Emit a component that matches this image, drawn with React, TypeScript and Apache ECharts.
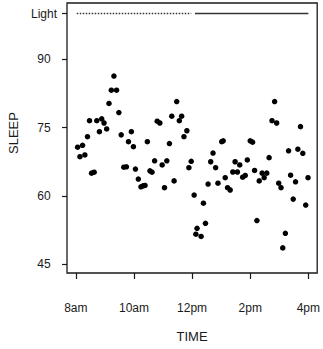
import React, { useEffect, useRef } from "react";
import * as echarts from "echarts";

const times = [8.06,8.14,8.23,8.31,8.40,8.47,8.54,8.63,8.72,8.81,8.89,8.97,9.06,9.14,9.22,9.31,9.40,9.48,9.56,9.65,9.74,9.81,9.91,9.98,10.05,10.15,10.24,10.31,10.38,10.46,10.55,10.62,10.71,10.80,10.89,10.97,11.05,11.13,11.22,11.30,11.38,11.47,11.56,11.64,11.72,11.82,11.89,11.97,12.07,12.13,12.17,12.31,12.39,12.46,12.55,12.64,12.72,12.81,12.89,13.02,13.07,13.14,13.22,13.31,13.40,13.48,13.56,13.64,13.74,13.83,13.90,14.00,14.08,14.15,14.23,14.31,14.41,14.48,14.57,14.65,14.75,14.84,14.91,14.98,15.06,15.12,15.21,15.32,15.39,15.48,15.56,15.64,15.73,15.81,15.91,15.99];
const sleep = [70.7,68.6,71.1,69.0,73.0,76.5,65.0,65.2,76.5,74.1,76.9,76.0,74.7,80.3,83.2,86.3,83.2,78.3,73.4,66.3,66.4,71.9,74.1,70.8,65.9,63.7,62.0,62.2,62.3,71.9,65.5,65.2,67.7,76.4,76.0,66.8,61.8,67.7,71.5,77.5,63.3,80.7,76.5,77.5,73.0,74.3,66.2,67.6,60.2,51.6,52.9,51.1,58.4,54.0,62.6,67.5,69.4,66.2,62.8,71.9,72.1,64.0,61.8,61.3,65.25,67.5,65.25,66.8,64.1,64.5,67.9,72.1,71.8,65.6,54.6,63.3,65.0,64.0,65.0,68.4,76.5,80.7,76.0,62.8,61.8,48.6,51.8,69.9,64.55,59.3,63.1,70.25,75.2,69.35,58.0,64.0];

const xTickValues = [8, 10, 12, 14, 16];
const xTickLabels = ["8am", "10am", "12pm", "2pm", "4pm"];
const yTickValues = [45, 60, 75, 90, 100];
const yTickLabels = ["45", "60", "75", "90", "Light"];

const lightLevel = 100;
const darkPeriod = [8.03, 11.97];
const lightPeriod = [12.1, 16.0];

const FONT = "'Liberation Sans', Arial, Helvetica, sans-serif";
const INK = "#1a1a1a";

export default function App() {
  const ref = useRef<HTMLDivElement>(null);
  useEffect(() => {
    if (!ref.current) return;
    const chart = echarts.init(ref.current, undefined, { renderer: "svg" });
    chart.setOption({
      animation: false,
      backgroundColor: "#fff",
      textStyle: { fontFamily: FONT },
      grid: {
        left: 67,
        right: 2,
        top: 3,
        bottom: 76,
        show: true,
        borderColor: INK,
        borderWidth: 1.3,
        backgroundColor: "transparent",
      },
      xAxis: {
        type: "value",
        min: 7.695,
        max: 16.305,
        axisLine: { show: false },
        splitLine: { show: false },
        axisTick: {
          show: true,
          length: 6,
          customValues: xTickValues,
          lineStyle: { color: INK, width: 1.2 },
        },
        axisLabel: {
          show: true,
          customValues: xTickValues,
          margin: 29,
          fontSize: 12,
          color: INK,
          fontFamily: FONT,
          formatter: (v: number) => {
            const i = xTickValues.indexOf(Math.round(v));
            return i >= 0 ? xTickLabels[i] : "";
          },
        },
        name: "TIME",
        nameLocation: "middle",
        nameGap: 57,
        nameTextStyle: { fontSize: 13, color: INK, fontFamily: FONT },
      },
      yAxis: {
        type: "value",
        min: 43.09,
        max: 102.33,
        axisLine: { show: false },
        splitLine: { show: false },
        axisTick: {
          show: true,
          length: 5,
          customValues: yTickValues,
          lineStyle: { color: INK, width: 1.2 },
        },
        axisLabel: {
          show: true,
          customValues: yTickValues,
          margin: 23,
          align: "center",
          fontSize: 12,
          color: INK,
          fontFamily: FONT,
          formatter: (v: number) => {
            const i = yTickValues.indexOf(Math.round(v));
            return i >= 0 ? yTickLabels[i] : "";
          },
        },
      },
      graphic: [
        {
          type: "text",
          x: 13,
          y: 133,
          rotation: Math.PI / 2,
          style: {
            text: "SLEEP",
            fontSize: 13,
            fontFamily: FONT,
            fill: INK,
            align: "center",
            verticalAlign: "middle",
          },
        },
      ],
      series: [
        {
          type: "scatter",
          data: times.map((t, i) => [t, sleep[i]]),
          symbol: "circle",
          symbolSize: 5.5,
          itemStyle: { color: "#000", opacity: 1 },
        },
        {
          type: "line",
          data: darkPeriod.map((t) => [t, lightLevel]),
          symbol: "none",
          lineStyle: { color: "#333", width: 1.5, type: [1.5, 1.5] },
        },
        {
          type: "line",
          data: lightPeriod.map((t) => [t, lightLevel]),
          symbol: "none",
          lineStyle: { color: "#333", width: 1.5, type: "solid" },
        },
      ],
    });
    return () => chart.dispose();
  }, []);
  return (
    <div
      ref={ref}
      style={{ position: "fixed", left: 0, top: 0, width: 323, height: 349 }}
    />
  );
}
